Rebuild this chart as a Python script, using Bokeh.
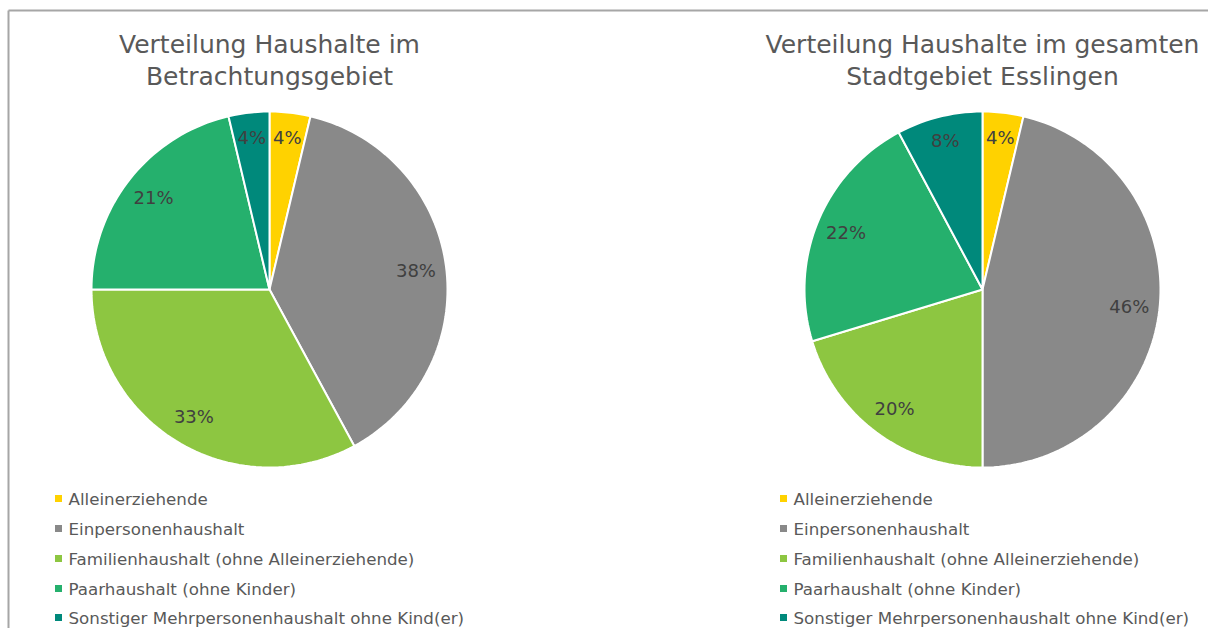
import math
from bokeh.plotting import figure
from bokeh.models import Range1d
from bokeh.core.properties import value
from bokeh.embed import file_html
from bokeh.resources import INLINE

categories = ["Alleinerziehende", "Einpersonenhaushalt",
              "Familienhaushalt (ohne Alleinerziehende)",
              "Paarhaushalt (ohne Kinder)",
              "Sonstiger Mehrpersonenhaushalt ohne Kind(er)"]
values_gebiet = [3.7, 38.4, 32.9, 21.3, 3.7]
values_stadt = [3.7, 46.3, 20.3, 21.9, 7.8]
title_gebiet = ["Verteilung Haushalte im", "Betrachtungsgebiet"]
title_stadt = ["Verteilung Haushalte im gesamten", "Stadtgebiet Esslingen"]
colors = ["#FFD200", "#898989", "#8DC641", "#25B06D", "#00897B"]

FONT = "DejaVu Sans"
TXT = "#595959"

W, H = 1208, 628
p = figure(width=W, height=H, output_backend="svg", toolbar_location=None,
           x_range=Range1d(0, W), y_range=Range1d(H, 0),
           min_border=0)
p.axis.visible = False
p.grid.visible = False
p.outline_line_color = None
p.background_fill_color = "white"

# frame lines
p.line([8, 1208], [10, 10], line_color="#A6A6A6", line_width=2)
p.line([8, 8], [10, 628], line_color="#A6A6A6", line_width=2)


def draw_pie(cx, cy, r, vals, title, legend_x):
    total = sum(vals)
    start = 0.0
    for v, c in zip(vals, colors):
        frac = v / total
        a0 = start * 2 * math.pi
        a1 = (start + frac) * 2 * math.pi
        n = max(4, int(frac * 200))
        xs = [cx]
        ys = [cy]
        for i in range(n + 1):
            a = a0 + (a1 - a0) * i / n
            xs.append(cx + r * math.sin(a))
            ys.append(cy - r * math.cos(a))
        p.patch(xs, ys, fill_color=c, line_color="white", line_width=2)
        am = (a0 + a1) / 2
        lr = r * (0.86 if frac < 0.1 else 0.83)
        p.text([cx + lr * math.sin(am)], [cy - lr * math.cos(am)],
               text=[f"{round(v)}%"], text_align="center",
               text_baseline="middle", text_font=value(FONT),
               text_font_size="18px", text_color="#404040")
        start += frac
    p.text([cx, cx], [44, 76], text=title, text_align="center",
           text_baseline="middle", text_font=value(FONT),
           text_font_size="25px", text_color=TXT)
    ys = [498, 528, 558, 588, 617]
    p.scatter([legend_x] * 5, ys, marker="square", size=7,
              fill_color=colors, line_color=None)
    p.text([legend_x + 10] * 5, ys, text=categories, text_align="left",
           text_baseline="middle", text_font=value(FONT),
           text_font_size="16.7px", text_color=TXT)


draw_pie(269, 289, 178, values_gebiet, title_gebiet, 58)
draw_pie(982, 289, 178, values_stadt, title_stadt, 783)

open("out.html", "w").write(file_html(p, INLINE))
